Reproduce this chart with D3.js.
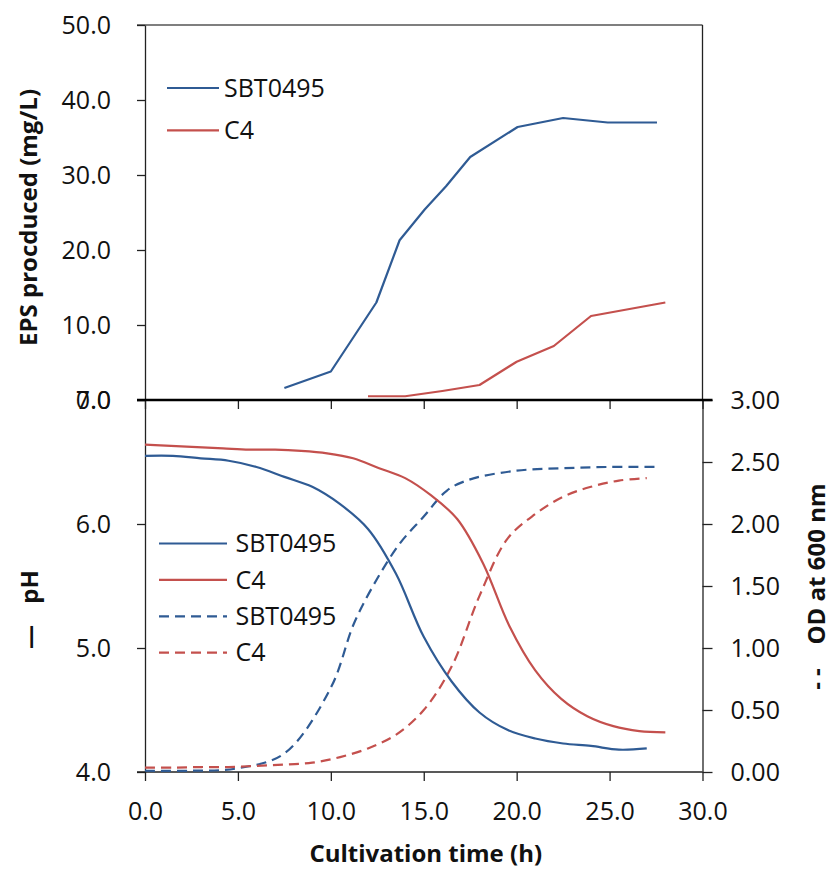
<!DOCTYPE html>
<html>
<head>
<meta charset="utf-8">
<script src="https://cdn.jsdelivr.net/npm/d3@7"></script>
<style>
  html, body { margin: 0; padding: 0; background: #fff; }
  svg { display: block; }
  text { font-family: "Open Sans", "Noto Sans", sans-serif; fill: #111; }
</style>
</head>
<body>
<svg id="chart" width="831" height="871"></svg>
<script>
// ---------- Data ----------
const seriesNames = ["SBT0495", "C4"];

// EPS produced (mg/L)
const epsSbtTime  = [7.5, 10.0, 12.45, 13.7, 15.05, 16.2, 17.5, 20.05, 22.5, 24.9, 27.55];
const epsSbtValue = [1.6, 3.8, 13.0, 21.3, 25.4, 28.5, 32.4, 36.4, 37.6, 37.0, 37.0];
const epsC4Time   = [12.0, 14.0, 16.0, 18.0, 20.0, 22.0, 24.0, 28.0];
const epsC4Value  = [0.5, 0.5, 1.2, 2.0, 5.1, 7.2, 11.2, 13.0];

// pH
const phSbtTime  = [0, 1.5, 3, 4.5, 6, 7.5, 9, 10.5, 12, 13.5, 15, 16.5, 18, 19.5, 21, 22.5, 24, 25.5, 27];
const phSbtValue = [6.55, 6.55, 6.53, 6.51, 6.46, 6.38, 6.30, 6.16, 5.96, 5.60, 5.09, 4.73, 4.48, 4.34, 4.27, 4.23, 4.21, 4.18, 4.19];
const phC4Time   = [0, 1.4, 2.8, 4.2, 5.6, 7.0, 8.4, 9.8, 11.2, 12.6, 14.0, 15.4, 16.8, 18.2, 19.6, 21.0, 22.4, 23.8, 25.2, 26.6, 28.0];
const phC4Value  = [6.64, 6.63, 6.62, 6.61, 6.60, 6.60, 6.59, 6.57, 6.53, 6.45, 6.37, 6.23, 6.04, 5.68, 5.18, 4.82, 4.59, 4.45, 4.37, 4.33, 4.32];

// OD at 600 nm
const odSbtTime  = [0, 2.5, 5, 7.5, 10, 11.25, 12.5, 13.75, 15, 16.25, 17.5, 20, 22.5, 25, 27.5];
const odSbtValue = [0.01, 0.01, 0.03, 0.15, 0.68, 1.20, 1.56, 1.85, 2.06, 2.27, 2.36, 2.43, 2.45, 2.46, 2.46];
const odC4Time   = [0, 1.5, 3, 4.5, 6, 7.5, 9, 10.5, 12, 13.5, 15, 16.5, 18, 19.5, 21, 22.5, 24, 25.5, 27];
const odC4Value  = [0.035, 0.035, 0.04, 0.04, 0.05, 0.06, 0.075, 0.12, 0.19, 0.30, 0.50, 0.85, 1.42, 1.88, 2.08, 2.22, 2.30, 2.35, 2.37];

// Tick values
const xTicks   = [0, 5, 10, 15, 20, 25, 30];
const epsTicks = [0, 10, 20, 30, 40, 50];
const phTicks  = [4, 5, 6, 7];
const odTicks  = [0, 0.5, 1, 1.5, 2, 2.5, 3];

// Titles
const epsTitle = "EPS procduced (mg/L)";
const xTitle   = "Cultivation time (h)";
const phTitle  = "pH";
const odTitle  = "OD at 600 nm";

// ---------- Styles ----------
const blue = "#2f5b94";
const red  = "#c4504d";
const colors = [blue, red];

// ---------- Layout ----------
const svg = d3.select("#chart");
const left = 145, right = 702.5;
const topT = 25, mid = 400, bottom = 772;

const x = d3.scaleLinear().domain([0, 30]).range([left, right]);
const yEps = d3.scaleLinear().domain([0, 50]).range([mid, topT]);
const yPh = d3.scaleLinear().domain([4, 7]).range([bottom, mid]);
const yOd = d3.scaleLinear().domain([0, 3]).range([bottom, mid]);

const tickFont = 25;
const titleFont = 24;

function styleAxis(g, color) {
  g.selectAll("path.domain").attr("stroke", color || "#222").attr("stroke-width", 1.3);
  g.selectAll(".tick line").attr("stroke", "#222").attr("stroke-width", 1.3);
  g.selectAll(".tick text").attr("font-size", tickFont).attr("font-family", '"Open Sans", sans-serif').attr("fill", "#111");
}

// Top panel border (top and right)
svg.append("line").attr("x1", x(0) - 8).attr("x2", x(30)).attr("y1", yEps(50)).attr("y2", yEps(50))
  .attr("stroke", "#555").attr("stroke-width", 1.3);
svg.append("line").attr("x1", x(30)).attr("x2", x(30)).attr("y1", yEps(50)).attr("y2", yEps(0))
  .attr("stroke", "#222").attr("stroke-width", 1.3);

// Left EPS axis
const gEps = svg.append("g").attr("transform", `translate(${left},0)`)
  .call(d3.axisLeft(yEps).tickValues(epsTicks).tickSize(8).tickSizeOuter(0).tickPadding(26).tickFormat(d3.format(".1f")));
styleAxis(gEps);

// Left pH axis
const gPh = svg.append("g").attr("transform", `translate(${left},0)`)
  .call(d3.axisLeft(yPh).tickValues(phTicks).tickSize(8).tickSizeOuter(0).tickPadding(26).tickFormat(d3.format(".1f")));
styleAxis(gPh);

// Right OD axis
const gOd = svg.append("g").attr("transform", `translate(${right},0)`)
  .call(d3.axisRight(yOd).tickValues(odTicks).tickSize(10).tickSizeOuter(0).tickPadding(18).tickFormat(d3.format(".2f")));
styleAxis(gOd);

// Bottom x axis
const gX = svg.append("g").attr("transform", `translate(0,${bottom})`)
  .call(d3.axisBottom(x).tickValues(xTicks).tickSize(9).tickSizeOuter(0).tickPadding(21).tickFormat(d3.format(".1f")));
styleAxis(gX);
gX.select("path.domain").remove();
svg.append("line").attr("x1", x(0) - 8).attr("x2", x(30)).attr("y1", yPh(4)).attr("y2", yPh(4))
  .attr("stroke", "#222").attr("stroke-width", 1.3);

// Middle x axis (top panel baseline), thicker
const gXm = svg.append("g").attr("transform", `translate(0,${mid})`)
  .call(d3.axisBottom(x).tickValues(xTicks).tickSize(9).tickSizeOuter(0).tickFormat(""));
gXm.select("path.domain").remove();
gXm.selectAll(".tick line").attr("stroke", "#222").attr("stroke-width", 1.3);
svg.append("line").attr("x1", x(0) - 8).attr("x2", x(30) + 10).attr("y1", yEps(0)).attr("y2", yEps(0))
  .attr("stroke", "#000").attr("stroke-width", 2.6);

// ---------- Lines ----------
function zip(t, v) { return t.map((d, i) => [d, v[i]]); }

const epsLine = d3.line().x(d => x(d[0])).y(d => yEps(d[1]));
const phLine = d3.line().x(d => x(d[0])).y(d => yPh(d[1])).curve(d3.curveCatmullRom.alpha(0.5));
const odLine = d3.line().x(d => x(d[0])).y(d => yOd(d[1])).curve(d3.curveCatmullRom.alpha(0.5));

const lineW = 2.2;
const dash = "10,6";

svg.append("path").datum(zip(epsSbtTime, epsSbtValue)).attr("d", epsLine)
  .attr("fill", "none").attr("stroke", blue).attr("stroke-width", lineW).attr("stroke-linejoin", "round");
svg.append("path").datum(zip(epsC4Time, epsC4Value)).attr("d", epsLine)
  .attr("fill", "none").attr("stroke", red).attr("stroke-width", lineW).attr("stroke-linejoin", "round");

svg.append("path").datum(zip(odSbtTime, odSbtValue)).attr("d", odLine)
  .attr("fill", "none").attr("stroke", blue).attr("stroke-width", lineW).attr("stroke-dasharray", dash);
svg.append("path").datum(zip(odC4Time, odC4Value)).attr("d", odLine)
  .attr("fill", "none").attr("stroke", red).attr("stroke-width", lineW).attr("stroke-dasharray", dash);

svg.append("path").datum(zip(phSbtTime, phSbtValue)).attr("d", phLine)
  .attr("fill", "none").attr("stroke", blue).attr("stroke-width", lineW);
svg.append("path").datum(zip(phC4Time, phC4Value)).attr("d", phLine)
  .attr("fill", "none").attr("stroke", red).attr("stroke-width", lineW);

// ---------- Legends ----------
const legTop = svg.append("g");
seriesNames.forEach((name, i) => {
  const yy = 88 + i * 42.3;
  legTop.append("line").attr("x1", 167).attr("x2", 219).attr("y1", yy).attr("y2", yy)
    .attr("stroke", colors[i]).attr("stroke-width", lineW);
  legTop.append("text").attr("x", 224).attr("y", yy).attr("dy", "0.35em")
    .attr("font-size", tickFont).text(name);
});

const legBot = svg.append("g");
const legItems = [
  { name: seriesNames[0], color: blue, dash: null },
  { name: seriesNames[1], color: red, dash: null },
  { name: seriesNames[0], color: blue, dash: dash },
  { name: seriesNames[1], color: red, dash: dash }
];
legItems.forEach((it, i) => {
  const yy = 543.5 + i * 36.4;
  const l = legBot.append("line").attr("x1", 159).attr("x2", 227).attr("y1", yy).attr("y2", yy)
    .attr("stroke", it.color).attr("stroke-width", lineW);
  if (it.dash) l.attr("stroke-dasharray", it.dash);
  legBot.append("text").attr("x", 235.5).attr("y", yy).attr("dy", "0.35em")
    .attr("font-size", tickFont).text(it.name);
});

// ---------- Titles ----------
svg.append("text").attr("transform", `translate(37,${(topT + mid) / 2 + 5}) rotate(-90)`)
  .attr("text-anchor", "middle").attr("font-size", titleFont).attr("font-weight", "bold").text(epsTitle);

svg.append("text").attr("transform", `translate(38,587) rotate(-90)`)
  .attr("text-anchor", "middle").attr("font-size", titleFont).attr("font-weight", "bold").text(phTitle);
svg.append("text").attr("transform", `translate(38,637) rotate(-90)`)
  .attr("text-anchor", "middle").attr("font-size", titleFont).attr("font-weight", "bold").text("\u2014");

svg.append("text").attr("transform", `translate(825,564) rotate(-90)`)
  .attr("text-anchor", "middle").attr("font-size", titleFont).attr("font-weight", "bold").text(odTitle);
svg.append("text").attr("transform", `translate(825,679) rotate(-90)`)
  .attr("text-anchor", "middle").attr("font-size", titleFont).attr("font-weight", "bold").text("- -");

svg.append("text").attr("x", (x(0) + x(30)) / 2 + 2).attr("y", 862)
  .attr("text-anchor", "middle").attr("font-size", titleFont).attr("font-weight", "bold").text(xTitle);
</script>
</body>
</html>
